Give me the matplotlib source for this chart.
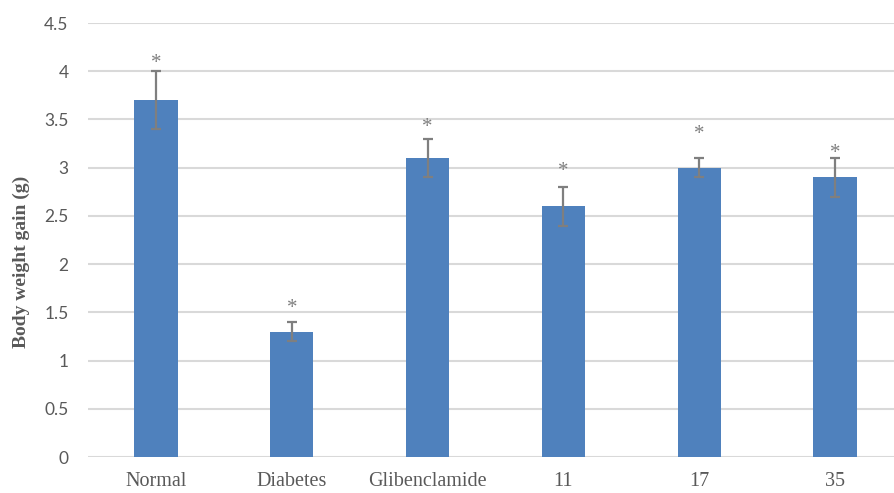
import matplotlib
matplotlib.use("Agg")
import matplotlib.pyplot as plt

groups = ["Normal", "Diabetes", "Glibenclamide", "11", "17", "35"]
weight_gain = [3.7, 1.3, 3.1, 2.6, 3.0, 2.9]
sem = [0.3, 0.1, 0.2, 0.2, 0.1, 0.2]
star_heights = [4.12, 1.58, 3.45, 3.0, 3.38, 3.18]
y_ticks = [0, 0.5, 1, 1.5, 2, 2.5, 3, 3.5, 4, 4.5]

W, H = 894, 493
fig = plt.figure(figsize=(W / 100, H / 100), dpi=100)
left, right = 88, 903
bottom, top = 457, 23
ax = fig.add_axes([left / W, 1 - bottom / H, (right - left) / W, (bottom - top) / H])

text_grey = "#595959"
x = list(range(len(groups)))
ax.bar(x, weight_gain, width=0.32, color="#4F81BD", zorder=3)
ax.errorbar(x, weight_gain, yerr=sem, fmt="none", ecolor="#7F7F7F",
            elinewidth=1.6, capsize=3.8, capthick=1.6, zorder=4)
# the asterisk glyph sits high in its box, so nudge it down a little
for xi, yi in zip(x, star_heights):
    ax.annotate("*", (xi, yi), xytext=(0, -2.5), textcoords="offset points",
                ha="center", va="center", fontsize=15, color="#7F7F7F",
                family="Liberation Serif", zorder=5)

ax.set_xlim(-0.5, len(groups) - 0.5)
ax.set_ylim(0, 4.5)
ax.set_yticks(y_ticks)
ax.set_yticklabels([f"{v:g}" for v in y_ticks], family="Lato", fontsize=12.5,
                   color=text_grey)
ax.set_xticks(x)
ax.set_xticklabels(groups, family="Liberation Serif", fontsize=14.5, color=text_grey)
ax.tick_params(axis="both", length=0)
ax.tick_params(axis="y", pad=14)
ax.tick_params(axis="x", pad=11)
ax.yaxis.grid(True, color="#D9D9D9", linewidth=1.5, zorder=0)
ax.set_axisbelow(True)
for s in ax.spines.values():
    s.set_visible(False)

ax.set_ylabel("Body weight gain (g)", family="Liberation Serif", fontweight="bold",
              fontsize=14, color=text_grey)
ax.yaxis.set_label_coords(-(left - 30) / (right - left), 0.5 - 22 / (bottom - top))

fig.savefig("out.png", dpi=100)
